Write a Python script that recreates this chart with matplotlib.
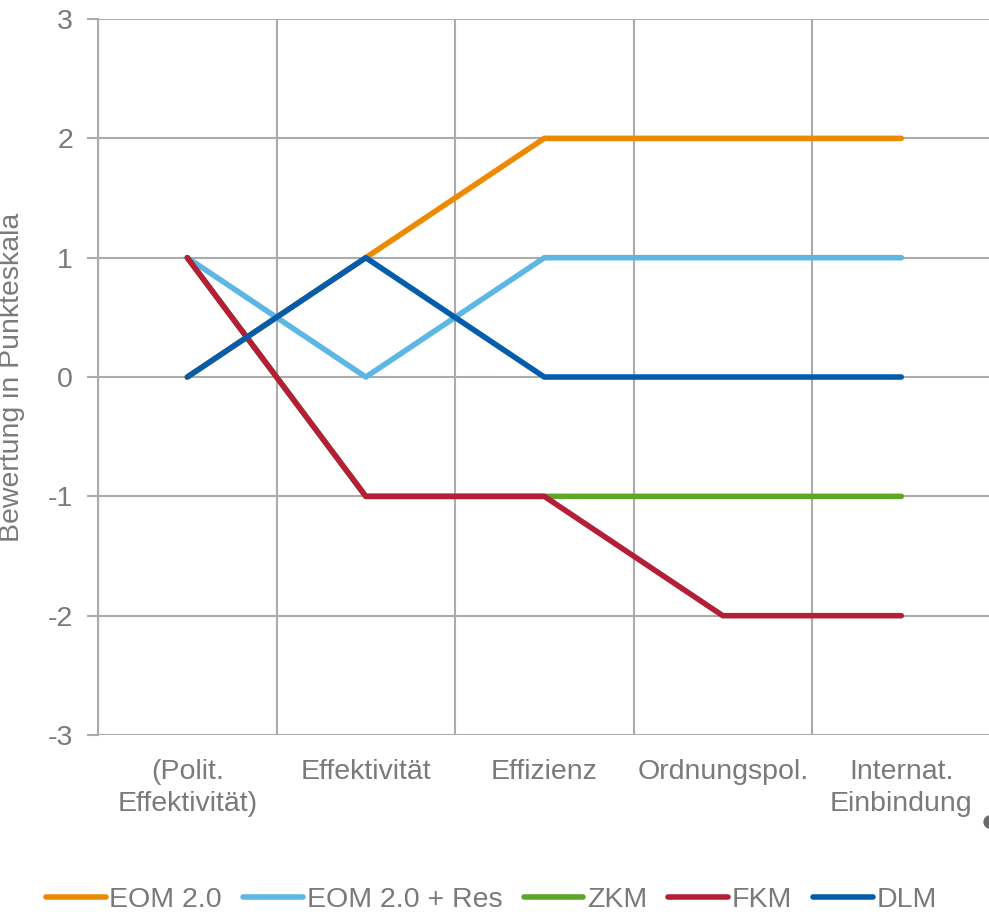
import matplotlib.pyplot as plt
from matplotlib.patches import Circle

plt.rcParams['font.family'] = ['Liberation Sans', 'DejaVu Sans']
plt.rcParams['axes.unicode_minus'] = False

# Kriterien und Bewertungen je Marktdesign
kriterien = ['(Polit.\nEffektivität)', 'Effektivität', 'Effizienz', 'Ordnungspol.', 'Internat.\nEinbindung']
eom = [0, 1, 2, 2, 2]
eom_res = [1, 0, 1, 1, 1]
zkm = [1, -1, -1, -1, -1]
fkm = [1, -1, -1, -2, -2]
dlm = [0, 1, 0, 0, 0]

series = [
    ('EOM 2.0', eom, '#EC8A04'),
    ('EOM 2.0 + Res', eom_res, '#5CB7E2'),
    ('ZKM', zkm, '#5EA528'),
    ('FKM', fkm, '#B41F36'),
    ('DLM', dlm, '#045DAC'),
]

text_grey = '#7a7a7a'
grid_grey = '#ababab'

fig = plt.figure(figsize=(9.89, 9.15), dpi=100)
ax = fig.add_axes([0.0991, 0.1967, 0.9025, 0.7825])

x = list(range(len(kriterien)))
for name, vals, col in series:
    ax.plot(x, vals, color=col, lw=4.0, solid_capstyle='round',
            solid_joinstyle='round', label=name, zorder=3)

ax.set_xlim(-0.5, len(kriterien) - 0.5)
ax.set_ylim(-3, 3)
ax.set_yticks(range(-3, 4))
ax.set_xticks(x)
ax.set_xticklabels(kriterien, fontsize=20.5, color=text_grey, linespacing=1.3)
ax.set_xticks([i + 0.5 for i in range(-1, len(kriterien))], minor=True)
ax.tick_params(axis='x', which='major', length=0, pad=17)
ax.tick_params(axis='x', which='minor', length=0)
ax.tick_params(axis='y', length=8, width=1.5, color=grid_grey, pad=10,
               labelsize=20.5, labelcolor=text_grey)
ax.grid(axis='y', which='major', color=grid_grey, lw=1.5)
ax.grid(axis='x', which='minor', color=grid_grey, lw=1.5)

for side in ['top', 'right', 'bottom']:
    ax.spines[side].set_visible(False)
ax.spines['left'].set_color(grid_grey)
ax.spines['left'].set_linewidth(1.5)

ax.set_ylabel('Bewertung in Punkteskala', fontsize=20.5, color=text_grey)
ax.yaxis.set_label_coords(-0.082, 0.5)

leg = fig.legend(loc='center', bbox_to_anchor=(0.497, 0.016), ncol=5, frameon=False,
                 fontsize=20.5, handlelength=2.1, handletextpad=0.12,
                 columnspacing=0.75, borderaxespad=0)
for t in leg.get_texts():
    t.set_color(text_grey)

# abgeschnittener Punkt am rechten Rand
fig.patches.append(Circle((991 / 989, 1 - 822 / 915), 0.007,
                          transform=fig.transFigure, color='#6a6a6a'))

fig.savefig('out.png', dpi=100)
